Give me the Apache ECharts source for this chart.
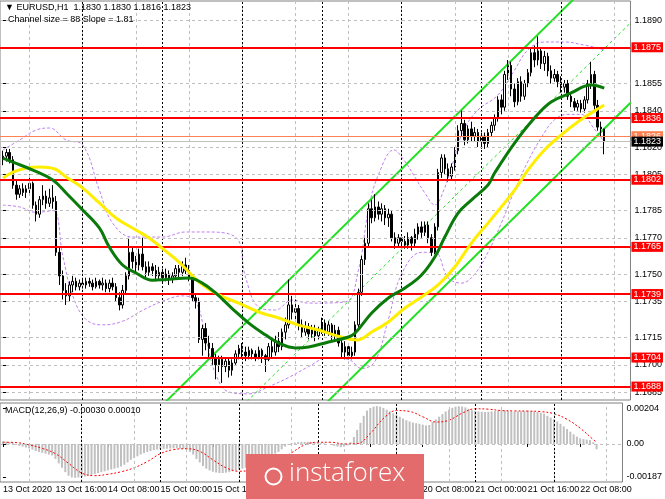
<!DOCTYPE html>
<html><head><meta charset="utf-8">
<script src="https://cdn.jsdelivr.net/npm/echarts@6/dist/echarts.min.js"></script>
<style>html,body{margin:0;padding:0;background:#fff}#c{width:665px;height:499px}</style>
</head><body><div id="c"></div>
<script>
// ---------- DATA ----------
// hourly bars, index 0 = 13 Oct 2020 00:00
const timeLabelBars = [0,16,32,48,64,80,96,112,128,144,160,176];
const timeLabels = ['13 Oct 2020','13 Oct 16:00','14 Oct 08:00','15 Oct 00:00','15 Oct 16:00','16 Oct 08:00','19 Oct 00:00','19 Oct 16:00','20 Oct 08:00','21 Oct 00:00','21 Oct 16:00','22 Oct 08:00'];
const gridBars = [8,24,40,56,72,88,104,120,136,152,168,184];
const daySeparators = [24,48,72,96,120,144,168];
const priceTicks = [1.1890,1.1875,1.1855,1.1840,1.1820,1.1805,1.1785,1.1770,1.1750,1.1735,1.1715,1.1700,1.1685];
const redLevels = [1.1875,1.1836,1.1802,1.1765,1.1739,1.1704,1.1688];
const askPrice = 1.1826;
const bidPrice = 1.1823;
const macdTicks = [0.00204, 0, -0.00187];
const macdTickText = ['0.00204','0.00','-0.00187'];

// [open, close, low, high]
const ohlc = [
[1.1813,1.1815,1.1810,1.1818],[1.1815,1.1817,1.1812,1.1819],[1.1817,1.1813,1.1811,1.1819],[1.1813,1.1799,1.1797,1.1815],
[1.1799,1.1794,1.1791,1.1802],[1.1794,1.1797,1.1792,1.1799],[1.1797,1.1795,1.1793,1.1800],[1.1795,1.1797,1.1792,1.1799],
[1.1797,1.1800,1.1794,1.1805],[1.1800,1.1788,1.1786,1.1801],[1.1788,1.1783,1.1779,1.1790],[1.1783,1.1791,1.1781,1.1793],
[1.1791,1.1793,1.1788,1.1799],[1.1793,1.1789,1.1786,1.1796],[1.1789,1.1792,1.1787,1.1797],[1.1792,1.1790,1.1786,1.1799],
[1.1790,1.1762,1.1760,1.1793],[1.1762,1.1749,1.1744,1.1765],[1.1749,1.1741,1.1736,1.1752],[1.1741,1.1738,1.1733,1.1745],
[1.1738,1.1744,1.1735,1.1746],[1.1744,1.1746,1.1740,1.1749],[1.1746,1.1743,1.1741,1.1748],[1.1743,1.1745,1.1741,1.1747],
[1.1745,1.1744,1.1742,1.1747],[1.1744,1.1746,1.1742,1.1748],[1.1746,1.1745,1.1743,1.1748],[1.1745,1.1743,1.1741,1.1747],
[1.1743,1.1746,1.1742,1.1748],[1.1746,1.1744,1.1742,1.1747],[1.1744,1.1745,1.1741,1.1748],[1.1745,1.1742,1.1740,1.1747],
[1.1742,1.1745,1.1740,1.1747],[1.1745,1.1743,1.1741,1.1748],[1.1743,1.1737,1.1735,1.1745],[1.1737,1.1733,1.1730,1.1740],
[1.1733,1.1741,1.1731,1.1744],[1.1741,1.1749,1.1739,1.1751],[1.1749,1.1762,1.1747,1.1770],[1.1762,1.1757,1.1753,1.1765],
[1.1757,1.1755,1.1751,1.1760],[1.1755,1.1761,1.1752,1.1764],[1.1761,1.1754,1.1752,1.1770],[1.1754,1.1751,1.1748,1.1757],
[1.1751,1.1754,1.1749,1.1757],[1.1754,1.1752,1.1749,1.1756],[1.1752,1.1749,1.1746,1.1755],[1.1749,1.1751,1.1747,1.1754],
[1.1751,1.1748,1.1745,1.1753],[1.1748,1.1750,1.1746,1.1753],[1.1750,1.1747,1.1744,1.1752],[1.1747,1.1749,1.1745,1.1751],
[1.1749,1.1753,1.1747,1.1755],[1.1753,1.1751,1.1748,1.1755],[1.1751,1.1755,1.1749,1.1757],[1.1755,1.1752,1.1750,1.1759],
[1.1752,1.1748,1.1746,1.1755],[1.1748,1.1737,1.1735,1.1750],[1.1737,1.1735,1.1731,1.1739],[1.1735,1.1714,1.1712,1.1737],
[1.1714,1.1720,1.1705,1.1722],[1.1720,1.1712,1.1708,1.1723],[1.1712,1.1709,1.1704,1.1716],[1.1709,1.1704,1.1700,1.1712],
[1.1704,1.1700,1.1692,1.1706],[1.1700,1.1703,1.1696,1.1705],[1.1703,1.1699,1.1690,1.1705],[1.1699,1.1702,1.1696,1.1704],
[1.1702,1.1697,1.1693,1.1704],[1.1697,1.1701,1.1694,1.1703],[1.1701,1.1706,1.1700,1.1708],[1.1706,1.1709,1.1703,1.1711],
[1.1709,1.1707,1.1704,1.1712],[1.1707,1.1705,1.1702,1.1710],[1.1705,1.1708,1.1703,1.1710],[1.1708,1.1706,1.1703,1.1709],
[1.1706,1.1704,1.1702,1.1708],[1.1704,1.1708,1.1703,1.1710],[1.1708,1.1705,1.1701,1.1709],[1.1705,1.1703,1.1696,1.1706],
[1.1703,1.1710,1.1702,1.1712],[1.1710,1.1707,1.1704,1.1714],[1.1707,1.1713,1.1705,1.1716],[1.1713,1.1710,1.1707,1.1718],
[1.1710,1.1718,1.1708,1.1720],[1.1718,1.1722,1.1714,1.1726],[1.1722,1.1733,1.1720,1.1747],[1.1733,1.1729,1.1725,1.1738],
[1.1729,1.1731,1.1724,1.1736],[1.1731,1.1722,1.1719,1.1733],[1.1722,1.1718,1.1715,1.1725],[1.1718,1.1721,1.1716,1.1724],
[1.1721,1.1717,1.1714,1.1723],[1.1717,1.1720,1.1715,1.1722],[1.1720,1.1716,1.1713,1.1722],[1.1716,1.1719,1.1714,1.1721],
[1.1719,1.1723,1.1717,1.1726],[1.1723,1.1718,1.1716,1.1725],[1.1718,1.1722,1.1716,1.1724],[1.1722,1.1716,1.1713,1.1723],
[1.1716,1.1719,1.1714,1.1722],[1.1719,1.1712,1.1710,1.1721],[1.1712,1.1707,1.1704,1.1714],[1.1707,1.1710,1.1703,1.1713],
[1.1710,1.1705,1.1703,1.1712],[1.1705,1.1707,1.1703,1.1710],[1.1707,1.1722,1.1705,1.1724],[1.1722,1.1740,1.1720,1.1742],
[1.1740,1.1758,1.1738,1.1760],[1.1758,1.1767,1.1755,1.1770],[1.1767,1.1786,1.1765,1.1789],[1.1786,1.1781,1.1778,1.1791],
[1.1781,1.1787,1.1779,1.1794],[1.1787,1.1783,1.1780,1.1790],[1.1783,1.1786,1.1779,1.1789],[1.1786,1.1781,1.1777,1.1788],
[1.1781,1.1783,1.1776,1.1786],[1.1783,1.1770,1.1768,1.1785],[1.1770,1.1767,1.1764,1.1773],[1.1767,1.1770,1.1765,1.1772],
[1.1770,1.1768,1.1765,1.1772],[1.1768,1.1766,1.1764,1.1771],[1.1766,1.1770,1.1764,1.1773],[1.1770,1.1767,1.1763,1.1771],
[1.1767,1.1772,1.1765,1.1775],[1.1772,1.1776,1.1769,1.1778],[1.1776,1.1773,1.1770,1.1779],[1.1773,1.1777,1.1771,1.1779],
[1.1777,1.1770,1.1767,1.1779],[1.1770,1.1762,1.1760,1.1772],[1.1762,1.1776,1.1761,1.1778],[1.1776,1.1806,1.1774,1.1808],
[1.1806,1.1814,1.1803,1.1816],[1.1814,1.1808,1.1805,1.1816],[1.1808,1.1804,1.1801,1.1811],[1.1804,1.1809,1.1802,1.1811],
[1.1809,1.1818,1.1807,1.1820],[1.1818,1.1829,1.1816,1.1832],[1.1829,1.1833,1.1826,1.1840],[1.1833,1.1824,1.1821,1.1835],
[1.1824,1.1830,1.1822,1.1832],[1.1830,1.1826,1.1823,1.1834],[1.1826,1.1828,1.1823,1.1831],[1.1828,1.1823,1.1820,1.1830],
[1.1823,1.1826,1.1819,1.1828],[1.1826,1.1822,1.1819,1.1828],[1.1822,1.1828,1.1820,1.1830],[1.1828,1.1832,1.1826,1.1834],
[1.1832,1.1836,1.1829,1.1838],[1.1836,1.1846,1.1834,1.1848],[1.1846,1.1842,1.1838,1.1849],[1.1842,1.1860,1.1840,1.1862],
[1.1860,1.1865,1.1857,1.1868],[1.1865,1.1852,1.1848,1.1867],[1.1852,1.1845,1.1842,1.1855],[1.1845,1.1856,1.1843,1.1858],
[1.1856,1.1848,1.1845,1.1859],[1.1848,1.1855,1.1846,1.1857],[1.1855,1.1861,1.1853,1.1863],[1.1861,1.1872,1.1859,1.1875],
[1.1872,1.1868,1.1864,1.1876],[1.1868,1.1873,1.1865,1.1881],[1.1873,1.1866,1.1863,1.1875],[1.1866,1.1870,1.1862,1.1873],
[1.1870,1.1862,1.1859,1.1872],[1.1862,1.1858,1.1855,1.1865],[1.1858,1.1860,1.1856,1.1863],[1.1860,1.1856,1.1853,1.1862],
[1.1856,1.1853,1.1850,1.1859],[1.1853,1.1855,1.1850,1.1857],[1.1855,1.1848,1.1846,1.1857],[1.1848,1.1845,1.1842,1.1850],
[1.1845,1.1842,1.1840,1.1847],[1.1842,1.1844,1.1840,1.1846],[1.1844,1.1841,1.1839,1.1846],[1.1841,1.1846,1.1839,1.1848],
[1.1846,1.1855,1.1844,1.1857],[1.1855,1.1860,1.1852,1.1867],[1.1860,1.1843,1.1840,1.1862],[1.1843,1.1831,1.1829,1.1846],
[1.1831,1.1830,1.1826,1.1834],[1.1830,1.1823,1.1816,1.1830]
];

// moving averages read at sparse bars: [bar, price]
const maYellow = [[0,1.18029],[3,1.18062],[7,1.18084],[11,1.18090],[15.6,1.18079],[19,1.18035],[24,1.17974],[29,1.17892],[34,1.17809],[40,1.17743],[44,1.17699],[48.6,1.17632],[53,1.17566],[59,1.17456],[65,1.17385],[71,1.17340],[77,1.17291],[83,1.17258],[89,1.17219],[95,1.17192],[101.8,1.17153],[106.6,1.17137],[111,1.17181],[116,1.17236],[121,1.17313],[126,1.17374],[131,1.17440],[136,1.17539],[141,1.17671],[146,1.17781],[154,1.17963],[158,1.18073],[163,1.18184],[168,1.18266],[173,1.18338],[177,1.18387],[181,1.18432]];
const maGreen = [[0,1.18139],[3,1.18117],[9,1.18073],[15,1.18018],[19,1.17947],[24,1.17853],[29,1.17754],[32,1.17649],[36,1.17550],[40,1.17506],[45,1.17466],[49,1.17470],[56,1.17478],[60,1.17450],[64,1.17396],[69,1.17310],[74,1.17230],[79,1.17165],[83,1.17120],[88,1.17093],[92,1.17098],[98,1.17126],[104,1.17153],[106,1.17175],[111,1.17285],[116,1.17368],[121,1.17423],[126,1.17495],[130,1.17594],[133,1.17704],[137,1.17836],[141,1.17908],[146,1.17991],[148,1.18057],[154,1.18222],[160,1.18360],[165,1.18448],[171,1.18498],[177,1.18542],[181,1.18525]];
// bollinger style envelope (dashed violet)
const bandUpper = [[0,1.18184],[5,1.18239],[10,1.18294],[14,1.18305],[19,1.18239],[24,1.18211],[29,1.17963],[33,1.17781],[39,1.17704],[48,1.17704],[55,1.17732],[61,1.17732],[70,1.17704],[73,1.17484],[77,1.17318],[82,1.17302],[87,1.17357],[92,1.17340],[103,1.17346],[107,1.17522],[110,1.17853],[113,1.18046],[117.7,1.18184],[120.7,1.18128],[124,1.18035],[127,1.17947],[130,1.17881],[132.7,1.17963],[135.7,1.18128],[138.7,1.18294],[143,1.18404],[149,1.18487],[154,1.18624],[158,1.18735],[163,1.18779],[169,1.18779],[175,1.18762],[179,1.18746],[181,1.18735]];
const bandLower = [[0,1.17880],[5,1.17870],[10,1.17840],[15,1.17850],[18,1.17600],[21,1.17380],[25,1.17250],[30,1.17220],[36,1.17240],[42,1.17300],[48,1.17350],[54,1.17380],[58,1.17350],[61,1.17150],[64,1.16950],[68,1.16850],[74,1.16840],[80,1.16880],[86,1.16930],[92,1.16990],[98,1.17040],[104,1.17030],[108,1.16980],[112,1.17020],[116,1.17250],[120,1.17500],[126,1.17620],[130,1.17620],[134,1.17480],[138,1.17450],[142,1.17500],[146,1.17620],[150,1.17780],[154,1.17960],[158,1.18120],[162,1.18250],[166,1.18350],[170,1.18380],[174,1.18380],[178,1.18300],[181,1.18230]];
// regression channel end points [bar, price]
const channelUpper = [[40,1.16634],[189,1.19326]];
const channelMiddle = [[40,1.16194],[189,1.18886]];
const channelLower = [[40,1.15754],[189,1.18446]];

// MACD histogram per bar, in units of 0.00001
const macdHist = [
15,13,10,5,-5,-10,-15,-20,-25,-32,
-40,-45,-50,-55,-60,-65,-85,-110,-135,-160,
-180,-190,-192,-190,-188,-185,-180,-175,-170,-165,
-160,-155,-150,-145,-140,-135,-128,-118,-105,-90,
-80,-70,-60,-52,-45,-40,-35,-32,-30,-28,
-27,-26,-25,-25,-26,-28,-32,-45,-60,-85,
-105,-125,-140,-150,-158,-162,-165,-165,-163,-160,
-155,-150,-145,-140,-135,-130,-125,-118,-110,-100,
-90,-80,-68,-55,-45,-30,-15,-5,5,8,
10,12,12,12,12,10,8,5,3,0,
-5,-10,-15,-18,-15,-8,10,40,80,120,
160,190,205,212,215,212,205,195,185,175,
165,155,145,135,128,122,118,115,110,105,
108,125,140,155,170,185,195,205,212,215,
213,208,200,192,188,185,183,182,183,185,
187,190,192,190,187,185,184,185,186,187,
188,187,185,182,178,172,160,150,140,128,
115,100,85,70,55,42,32,28,25,22,
10,-30];
// MACD signal line at sparse bars [bar, value in 0.00001]
const macdSignal = [[0,10],[4,8],[8,-5],[12,-25],[16,-55],[20,-110],[24,-165],[28,-180],[32,-172],[36,-158],[40,-135],[44,-100],[48,-55],[52,-32],[56,-27],[60,-42],[64,-90],[68,-135],[72,-155],[76,-148],[80,-128],[84,-95],[88,-50],[92,-5],[96,10],[100,10],[104,0],[108,2],[112,60],[116,145],[120,190],[124,185],[128,155],[132,125],[136,135],[140,175],[144,200],[148,198],[152,190],[156,188],[160,187],[164,184],[168,172],[172,140],[176,90],[180,25],[181,10]];
const MACD_UNIT = 0.00001;

// ---------- CHART ----------
const FONT = '"Liberation Sans", Arial, sans-serif';
const X_MIN = -0.9, X_MAX = 188.9;
const chart = echarts.init(document.getElementById('c'), null, {renderer:'canvas'});

function vLines(bars, color, type){
  return bars.map(b => ({xAxis:b, lineStyle:{color:color, type:type, width:1}}));
}
function hLines(vals, color, type){
  return vals.map(v => ({yAxis:v, lineStyle:{color:color, type:type, width:1}}));
}
const mlBase = {symbol:['none','none'], silent:true, animation:false, precision:6, label:{show:false}, emphasis:{disabled:true}};
// carrier series: one off-screen point so that markers have data dimensions
function carrier(xi, yi, yVal, z, lines){
  return {type:'line', xAxisIndex:xi, yAxisIndex:yi, data:[[X_MIN-20, yVal]], showSymbol:false, z:z, silent:true,
    lineStyle:{opacity:0}, markLine:Object.assign({}, mlBase, {data:lines})};
}
function boxLabel(txt, bg){
  return {show:true, position:'end', distance:1, formatter:txt, color:'#fff', backgroundColor:bg, padding:[1,2,0,2], fontSize:9, fontFamily:FONT};
}

const levelData = redLevels.map(v => ({yAxis:v, lineStyle:{color:'#ff0000', width:2, type:'solid'}, label:boxLabel(v.toFixed(4), '#ff0000')}));
levelData.push({yAxis:askPrice, lineStyle:{color:'#ff8050', width:1, type:'solid'}, label:boxLabel(askPrice.toFixed(4), '#ff8050')});
levelData.push({yAxis:bidPrice, lineStyle:{color:'#c0c0c0', width:1, type:'solid'}, label:boxLabel(bidPrice.toFixed(4), '#000000')});

const option = {
  animation:false,
  backgroundColor:'#ffffff',
  grid:[
    {left:0, top:1, width:632, height:399, show:true, borderColor:'#808080', borderWidth:1, backgroundColor:'transparent'},
    {left:0, top:403, width:632, height:79, show:true, borderColor:'#808080', borderWidth:1, backgroundColor:'transparent'}
  ],
  xAxis:[
    {type:'value', gridIndex:0, min:X_MIN, max:X_MAX, axisLine:{show:false}, axisTick:{show:false}, axisLabel:{show:false}, splitLine:{show:false}},
    {type:'value', gridIndex:1, min:X_MIN, max:X_MAX, position:'bottom',
      axisLine:{show:false},
      axisTick:{show:true, customValues:timeLabelBars, length:3, lineStyle:{color:'#000'}},
      axisLabel:{show:true, customValues:timeLabelBars, formatter:(v)=>timeLabels[timeLabelBars.indexOf(Math.round(v))] || '', align:'left', margin:3, fontSize:9, color:'#000', fontFamily:FONT},
      splitLine:{show:false}}
  ],
  yAxis:[
    {type:'value', gridIndex:0, position:'right', min:1.16806, max:1.19005,
      axisLine:{show:false}, axisTick:{show:true, customValues:priceTicks, length:3, lineStyle:{color:'#000'}},
      axisLabel:{show:true, customValues:priceTicks, formatter:(v)=>v.toFixed(4), margin:4, fontSize:9, color:'#000', fontFamily:FONT},
      splitLine:{show:false}},
    {type:'value', gridIndex:1, position:'right', min:-0.00216, max:0.00233,
      axisLine:{show:false}, axisTick:{show:true, customValues:macdTicks, length:3, lineStyle:{color:'#000'}},
      axisLabel:{show:true, customValues:macdTicks, formatter:(v)=>macdTickText[macdTicks.findIndex(t=>Math.abs(t-v)<1e-7)] || '', margin:4, fontSize:9, color:'#000', fontFamily:FONT},
      splitLine:{show:false}}
  ],
  series:[
    carrier(0, 0, 1.18, 1, [].concat(vLines(gridBars,'#c0c0c0',[3,3]), vLines(daySeparators,'#000000',[2,2]), hLines(priceTicks,'#c0c0c0',[3,3]))),
    carrier(1, 1, 0, 1, [].concat(vLines(gridBars,'#c0c0c0',[3,3]), vLines(daySeparators,'#000000',[2,2]), hLines([0],'#c0c0c0',[3,3]))),
    {name:'bandUpper', type:'line', xAxisIndex:0, yAxisIndex:0, data:bandUpper, smooth:0.4, showSymbol:false, z:2, silent:true,
      lineStyle:{color:'#c080f0', width:1, type:[3,2]}},
    {name:'bandLower', type:'line', xAxisIndex:0, yAxisIndex:0, data:bandLower, smooth:0.4, showSymbol:false, z:2, silent:true,
      lineStyle:{color:'#c080f0', width:1, type:[3,2]}},
    {name:'chUp', type:'line', xAxisIndex:0, yAxisIndex:0, data:channelUpper, showSymbol:false, z:3, silent:true, lineStyle:{color:'#22e022', width:2}},
    {name:'chMid', type:'line', xAxisIndex:0, yAxisIndex:0, data:channelMiddle, showSymbol:false, z:3, silent:true, lineStyle:{color:'#22e022', width:1, type:[3,3]}},
    {name:'chLow', type:'line', xAxisIndex:0, yAxisIndex:0, data:channelLower, showSymbol:false, z:3, silent:true, lineStyle:{color:'#22e022', width:2}},
    {name:'candles', type:'candlestick', xAxisIndex:0, yAxisIndex:0, z:4, silent:true,
      data:ohlc.map((r,i)=>[i,r[0],r[1],r[2],r[3]]), encode:{x:0, y:[1,2,3,4]},
      barWidth:2,
      itemStyle:{color:'#ffffff', color0:'#000000', borderColor:'#000000', borderColor0:'#000000', borderWidth:1}},
    {name:'maYellow', type:'line', xAxisIndex:0, yAxisIndex:0, data:maYellow, smooth:0.4, showSymbol:false, z:5, silent:true, lineStyle:{color:'#ffee00', width:3}},
    {name:'maGreen', type:'line', xAxisIndex:0, yAxisIndex:0, data:maGreen, smooth:0.4, showSymbol:false, z:6, silent:true, lineStyle:{color:'#0a7a0a', width:3}},
    carrier(0, 0, 1.18, 7, levelData),
    {name:'macd', type:'bar', xAxisIndex:1, yAxisIndex:1, data:macdHist.map((v,i)=>[i, v*MACD_UNIT]), barWidth:2, z:3, silent:true,
      itemStyle:{color:'#c0c0c0'}},
    {name:'signal', type:'line', xAxisIndex:1, yAxisIndex:1, data:macdSignal.map(p=>[p[0], p[1]*MACD_UNIT]), smooth:0.4, showSymbol:false, z:4, silent:true,
      lineStyle:{color:'#ff0000', width:1, type:[2,2]}}
  ],
  graphic:[
    {type:'text', left:5, top:3, z:50, style:{text:'\u25BC EURUSD,H1  1.1830 1.1830 1.1816 1.1823', fill:'#000', font:'9px '+FONT}},
    {type:'text', left:8, top:15, z:50, style:{text:'Channel size = 88 Slope = 1.81', fill:'#000', font:'9px '+FONT}},
    {type:'text', left:5, top:406, z:50, style:{text:'MACD(12,26,9) -0.00030 0.00010', fill:'#000', font:'9px '+FONT}},
    {type:'rect', left:246, top:454, z:60, shape:{width:178, height:45}, style:{fill:'#e36b6b'}},
    {type:'circle', left:263, top:466, z:61, shape:{r:8}, style:{fill:'none', stroke:'#fff', lineWidth:2}},
    {type:'text', left:289, top:461, z:61, style:{text:'instaforex', fill:'#ffffff', font:'300 26px "Open Sans", sans-serif'}}
  ]
};
chart.setOption(option);
</script>
</body></html>
